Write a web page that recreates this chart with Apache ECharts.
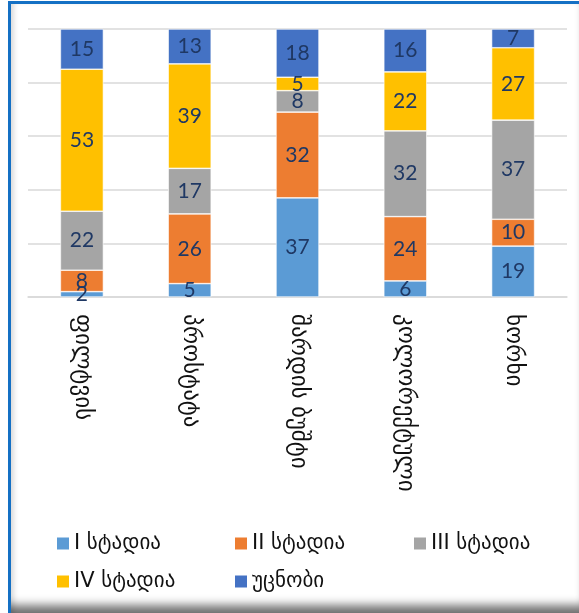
<!DOCTYPE html>
<html>
<head>
<meta charset="utf-8">
<script src="https://cdn.jsdelivr.net/npm/echarts@6/dist/echarts.min.js"></script>
<style>
html,body{margin:0;padding:0;width:579px;height:613px;overflow:hidden;background:#fff;}
#frame{position:absolute;left:8px;top:1px;width:580px;height:609px;border:3px solid #1470c4;border-right:none;box-sizing:content-box;background:#fff;
box-shadow: inset -12px -14px 10px -6px rgba(0,0,0,0.55), inset 5px 0 5px -2px rgba(0,0,0,0.15);}
#chart{position:absolute;left:0;top:0;width:579px;height:613px;}
</style>
</head>
<body>
<div id="frame"></div>
<div id="chart"></div>
<script>
const categories = ['ფილტვის', 'პროსტატა', 'შარდის ბუშტი', 'კოლორექტული', 'ხორხი'];
const seriesNames = ['I სტადია', 'II სტადია', 'III სტადია', 'IV სტადია', 'უცნობი'];
const stage1 = [2, 5, 37, 6, 19];
const stage2 = [8, 26, 32, 24, 10];
const stage3 = [22, 17, 8, 32, 37];
const stage4 = [53, 39, 5, 22, 27];
const unknown = [15, 13, 18, 16, 7];
const colors = ['#5B9BD5', '#ED7D31', '#A5A5A5', '#FFC000', '#4472C4'];

const allData = [stage1, stage2, stage3, stage4, unknown];
const font = "Lato, 'Open Sans', 'DejaVu Sans', sans-serif";
const geoFont = "'DejaVu Sans', sans-serif";

// legend slot positions (layout only)
const legendPos = [[55, 533], [233, 533], [412, 533], [55, 571], [233, 571]];

const chart = echarts.init(document.getElementById('chart'), null, {renderer: 'canvas'});
chart.setOption({
  animation: false,
  backgroundColor: 'transparent',
  color: colors,
  grid: {left: 28, right: 12, top: 29, bottom: 316, containLabel: false},
  legend: seriesNames.map(function(n, i){
    return {
      left: legendPos[i][0], top: legendPos[i][1], itemWidth: 14, itemHeight: 14, itemGap: 0,
      icon: 'rect', padding: 0,
      textStyle: {fontFamily: geoFont, fontSize: 21, color: '#111', padding: [0,0,0,-1]},
      data: [n]
    };
  }),
  xAxis: {
    type: 'category', data: categories,
    axisLine: {lineStyle: {color: '#d9d9d9', width: 1.5}},
    axisTick: {show: false},
    axisLabel: {rotate: -90, fontFamily: geoFont, fontSize: 23, color: '#111', margin: 17, interval: 0}
  },
  yAxis: {
    type: 'value', min: 0, max: 100, interval: 20,
    axisLabel: {show: false}, axisLine: {show: false}, axisTick: {show: false},
    splitLine: {lineStyle: {color: '#d9d9d9', width: 1.5}}
  },
  series: seriesNames.map(function(name, i){
    return {
      name: name, type: 'bar', stack: 'total', barWidth: 43,
      data: allData[i],
      itemStyle: {color: colors[i], borderColor: '#fff', borderWidth: 0.6},
      label: {show: true, position: 'inside', color: '#1F3864', fontSize: 21, fontFamily: font}
    };
  })
});
</script>
</body>
</html>
